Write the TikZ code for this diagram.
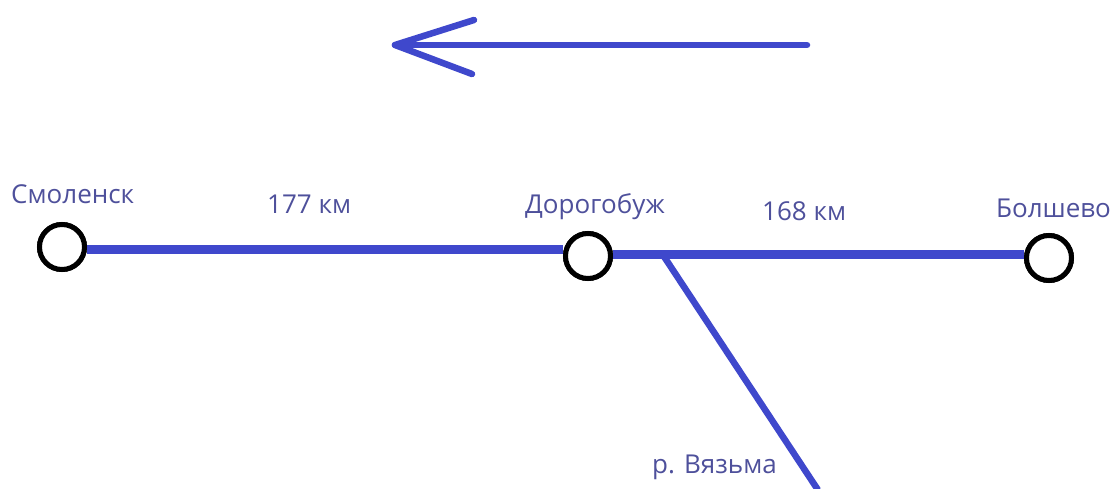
\documentclass[tikz,border=0pt]{standalone}
\usepackage{fontspec}
\setmainfont{Open Sans}
\definecolor{lineblue}{RGB}{63,72,204}
\definecolor{textblue}{RGB}{78,80,155}
\begin{document}
\begin{tikzpicture}[x=1pt,y=-1pt,
  station/.style={circle,draw=black,line width=5pt,fill=white,minimum size=45pt,inner sep=0pt},
  route/.style={draw=lineblue,line width=9pt},
  river/.style={draw=lineblue,line width=6.5pt,line cap=round},
  lbl/.style={text=textblue,font=\fontsize{26}{30}\selectfont,inner sep=0pt,anchor=base west}]
\useasboundingbox (0,0) rectangle (1112,488);
% direction arrow
\coordinate (at) at (395,45);
\coordinate (ae) at (807,45);
\coordinate (au) at (474,20);
\coordinate (al) at (472,74);
\draw[river,line join=round] (ae) -- (at);
\draw[river,line join=round] (au) -- (at) -- (al);
% stations
\node[station] (s) at (62,247) {};
\node[station] (d) at (588,256) {};
\node[station] (b) at (1049,258) {};
\coordinate (j) at (663,255);
\coordinate (r) at (818,490);
\draw[route] (s.east |- 0,249.5) -- (d.west |- 0,249.5);
\draw[route] (d.east |- 0,254) -- (b.west |- 0,254);
\draw[river,line cap=butt] (j) -- (r);
\node[station] at (s) {};
\node[station] at (d) {};
\node[station] at (b) {};
% labels
\node[lbl] (ls) at (11,203) {Смоленск};
\node[lbl] (l177) at (267,213) {177 км};
\node[lbl] (ld) at (525,213) {Дорогобуж};
\node[lbl] (l168) at (762,220) {168 км};
\node[lbl] (lb) at (996,217) {Болшево};
\node[lbl] (lr) at (652,473) {р. Вязьма};
\end{tikzpicture}
\end{document}
